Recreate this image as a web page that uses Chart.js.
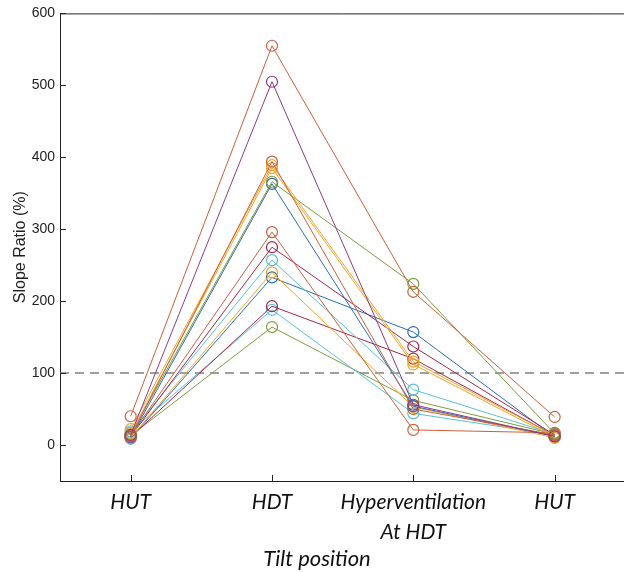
<!DOCTYPE html>
<html>
<head>
<meta charset="utf-8">
<title>Slope ratio by tilt position</title>
<script src="https://cdn.jsdelivr.net/npm/chart.js@4"></script>
<style>
    html, body { margin: 0; padding: 0; background: #fff; overflow: hidden; }
    #wrap { position: relative; width: 624px; height: 572px; overflow: hidden; }
    #slopeChart { position: absolute; left: 0; top: 0; }
    #xTitle {
        position: absolute; left: 0; width: 634px; top: 545px;
        text-align: center; font: italic 22px Lato, "Open Sans", sans-serif;
        line-height: 26px; color: #111;
    }
</style>
</head>
<body>
<div id="wrap">
    <canvas id="slopeChart" width="632" height="572"></canvas>
    <div id="xTitle">Tilt position</div>
</div>
<script>
// tick labels / positions
const tickPositions = [1, 2, 3, 4];
const tickLabels = [['HUT'], ['HDT'], ['Hyperventilation', 'At HDT'], ['HUT']];
const yTicks = [0, 100, 200, 300, 400, 500, 600];
const refLevel = 100;

// one array per subject: HUT, HDT, Hyperventilation at HDT, HUT
const brownA  = [40, 555, 213, 39];
const purpleA = [14, 505, 56, 12];
const brownB  = [12, 394, 50, 14];
const orangeA = [22, 389, 116, 13];
const orangeB = [16, 385, 112, 11];
const greenA  = [15, 366, 224, 16];
const blueA   = [11, 363, 54, 12];
const brownC  = [13, 296, 21, 17];
const redA    = [12, 275, 137, 14];
const cyanA   = [17, 257, 77, 15];
const orangeC = [10, 240, 53, 10];
const blueB   = [9, 233, 157, 11];
const redB    = [11, 193, 120, 13];
const cyanB   = [19, 188, 44, 14];
const greenB  = [13, 164, 62, 15];

(function() {
    'use strict';

    const palette = {
        blue: '#2d6db4',
        brown: '#c9603c',
        orange: '#eda52a',
        purple: '#8c3b84',
        green: '#7e9b3f',
        cyan: '#5cbfd6',
        red: '#a3264b'
    };

    const series = [
        { values: brownA, color: palette.brown },
        { values: purpleA, color: palette.purple },
        { values: brownB, color: palette.brown },
        { values: orangeA, color: palette.orange },
        { values: orangeB, color: palette.orange },
        { values: greenA, color: palette.green },
        { values: blueA, color: palette.blue },
        { values: brownC, color: palette.brown },
        { values: redA, color: palette.red },
        { values: cyanA, color: palette.cyan },
        { values: orangeC, color: palette.orange },
        { values: blueB, color: palette.blue },
        { values: redB, color: palette.red },
        { values: cyanB, color: palette.cyan },
        { values: greenB, color: palette.green }
    ];

    const datasets = series.map(s => ({
        data: s.values.map((v, i) => ({ x: tickPositions[i], y: v })),
        borderColor: s.color,
        borderWidth: 1,
        pointRadius: 5.5,
        pointBorderWidth: 1.2,
        pointBorderColor: s.color,
        pointBackgroundColor: 'rgba(0,0,0,0)',
        tension: 0,
        order: 1
    }));

    // dashed reference at 100 %
    datasets.push({
        data: [{ x: 0.5, y: refLevel }, { x: 4.5, y: refLevel }],
        borderColor: '#808080',
        borderWidth: 1.5,
        borderDash: [9, 6],
        pointRadius: 0,
        order: 100
    });

    // MATLAB style ticks pointing inward, plus top box edge
    const inwardTicks = {
        id: 'inwardTicks',
        afterDraw(chart) {
            const { ctx, chartArea, scales } = chart;
            ctx.save();
            ctx.strokeStyle = '#222';
            ctx.lineWidth = 1;
            ctx.beginPath();
            yTicks.forEach(v => {
                const y = Math.round(scales.y.getPixelForValue(v)) + 0.5;
                ctx.moveTo(chartArea.left, y);
                ctx.lineTo(chartArea.left + 6, y);
            });
            tickPositions.forEach(v => {
                const x = Math.round(scales.x.getPixelForValue(v)) + 0.5;
                ctx.moveTo(x, chartArea.bottom);
                ctx.lineTo(x, chartArea.bottom - 6);
            });
            ctx.moveTo(chartArea.left, chartArea.top + 0.5);
            ctx.lineTo(chartArea.right, chartArea.top + 0.5);
            ctx.stroke();
            ctx.restore();
        }
    };

    new Chart(document.getElementById('slopeChart'), {
        type: 'line',
        data: { datasets },
        options: {
            responsive: false,
            animation: false,
            layout: { padding: { top: 13, right: 2, left: 0, bottom: 0 } },
            plugins: {
                legend: { display: false },
                tooltip: { enabled: false }
            },
            scales: {
                x: {
                    type: 'linear',
                    min: 0.5,
                    max: 4.5,
                    afterBuildTicks: s => { s.ticks = tickPositions.map(v => ({ value: v })); },
                    afterFit: s => { s.height = 91; },
                    ticks: {
                        autoSkip: false,
                        maxRotation: 0,
                        padding: 6,
                        color: '#111',
                        font: { family: 'Lato', style: 'italic', size: 21, lineHeight: 1.45 },
                        callback: v => tickLabels[tickPositions.indexOf(v)]
                    },
                    grid: { display: false, drawTicks: false },
                    border: { display: true, color: '#222', width: 1 }
                },
                y: {
                    min: -50,
                    max: 600,
                    afterBuildTicks: s => { s.ticks = yTicks.map(v => ({ value: v })); },
                    afterFit: s => { s.width = 60; },
                    ticks: {
                        padding: 5,
                        color: '#222',
                        font: { family: 'Liberation Sans', size: 14 }
                    },
                    grid: { display: false, drawTicks: false },
                    border: { display: true, color: '#222', width: 1 },
                    title: {
                        display: true,
                        text: 'Slope Ratio (%)',
                        color: '#222',
                        font: { family: 'Liberation Sans', size: 16 },
                        padding: { top: 11, bottom: 0 }
                    }
                }
            }
        },
        plugins: [inwardTicks]
    });
})();
</script>
</body>
</html>
